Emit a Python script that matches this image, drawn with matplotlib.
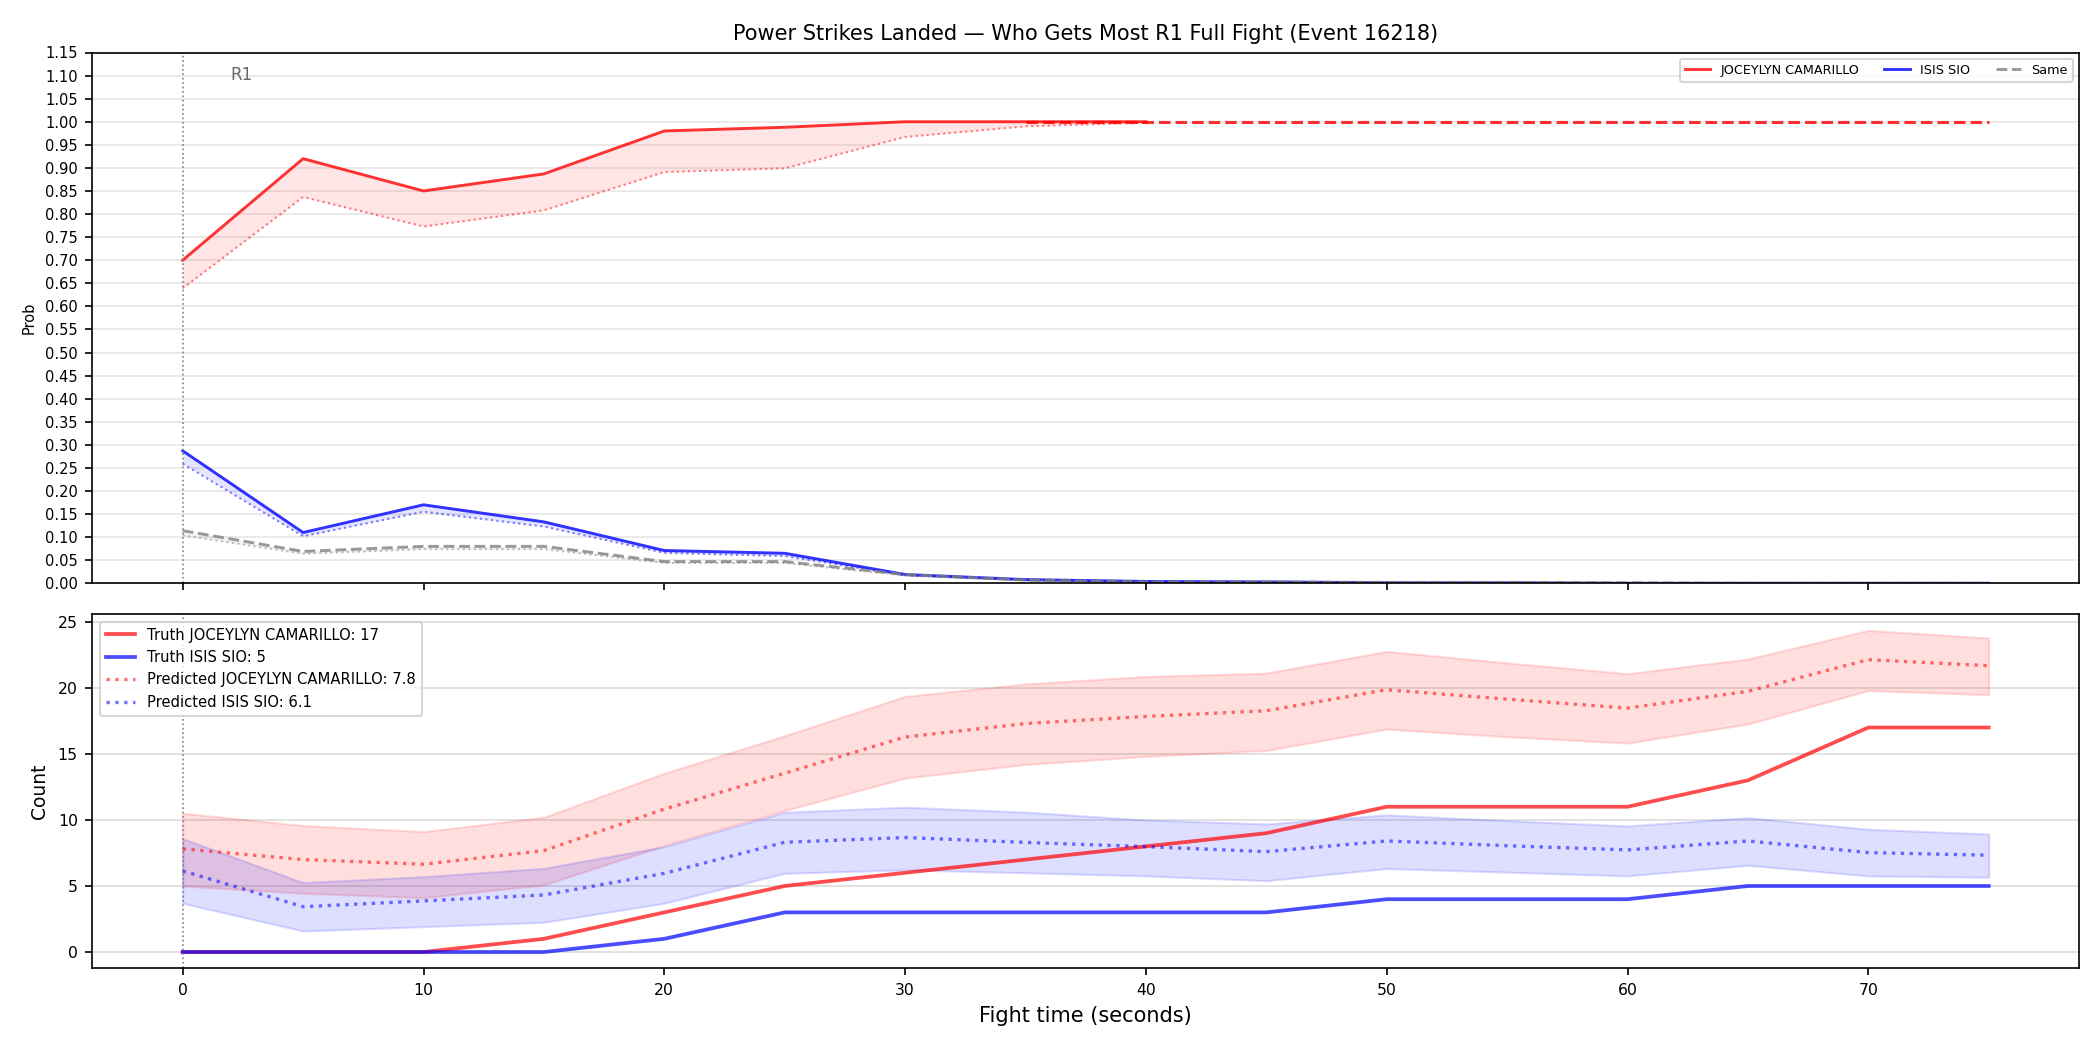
import matplotlib
matplotlib.use("Agg")
import matplotlib.pyplot as plt

RED, BLUE, GREY = "red", "blue", "grey"
NAME_A, NAME_B = "JOCEYLYN CAMARILLO", "ISIS SIO"

# fight time (s)
t = [0, 5, 10, 15, 20, 25, 30, 35, 40, 45, 50, 55, 60, 65, 70, 75]

# --- top panel: probability of landing most power strikes
t_a_live = [0, 5, 10, 15, 20, 25, 30, 35, 40]
p_a_live = [0.700, 0.920, 0.850, 0.887, 0.980, 0.988, 1.000, 1.000, 1.000]
p_a_pred = [0.639, 0.837, 0.773, 0.808, 0.891, 0.899, 0.967, 0.990, 0.998]
t_a_final = [35, 40, 45, 50, 55, 60, 65, 70, 75]
p_a_final = [1.0, 1.0, 1.0, 1.0, 1.0, 1.0, 1.0, 1.0, 1.0]
p_b_live = [0.287, 0.110, 0.170, 0.133, 0.071, 0.065, 0.019, 0.008, 0.004,
            0.003, 0.001, 0.001, 0.0, 0.0, 0.0, 0.0]
p_b_pred = [0.259, 0.102, 0.155, 0.123, 0.066, 0.059, 0.017, 0.007, 0.003,
            0.002, 0.001, 0.001, 0.0, 0.0, 0.0, 0.0]
p_same_live = [0.114, 0.069, 0.080, 0.080, 0.047, 0.047, 0.019, 0.007, 0.003,
               0.003, 0.002, 0.002, 0.001, 0.0, 0.0, 0.0]
p_same_pred = [0.104, 0.064, 0.074, 0.074, 0.044, 0.044, 0.017, 0.006, 0.002,
               0.002, 0.001, 0.001, 0.001, 0.0, 0.0, 0.0]

# --- bottom panel: cumulative counts
truth_a = [0, 0, 0, 1, 3, 5, 6, 7, 8, 9, 11, 11, 11, 13, 17, 17]
truth_b = [0, 0, 0, 0, 1, 3, 3, 3, 3, 3, 4, 4, 4, 5, 5, 5]
pred_a = [7.81, 7.0, 6.65, 7.68, 10.82, 13.54, 16.28, 17.3, 17.84, 18.27,
          19.86, 19.15, 18.47, 19.74, 22.14, 21.68]
pred_a_hi = [10.51, 9.58, 9.12, 10.21, 13.54, 16.38, 19.36, 20.3, 20.87, 21.12,
             22.77, 21.9, 21.08, 22.19, 24.36, 23.78]
pred_a_lo = [5.0, 4.45, 4.12, 5.08, 8.06, 10.71, 13.17, 14.2, 14.81, 15.26,
             16.88, 16.3, 15.82, 17.26, 19.8, 19.48]
pred_b = [6.14, 3.43, 3.87, 4.32, 5.96, 8.31, 8.67, 8.3, 7.98, 7.6,
          8.41, 8.05, 7.73, 8.41, 7.53, 7.33]
pred_b_hi = [8.59, 5.26, 5.71, 6.34, 7.98, 10.59, 10.97, 10.6, 10.0, 9.7,
             10.39, 9.95, 9.55, 10.18, 9.3, 8.94]
pred_b_lo = [3.69, 1.59, 1.92, 2.25, 3.69, 5.96, 6.22, 6.0, 5.76, 5.4,
             6.32, 6.05, 5.76, 6.57, 5.76, 5.66]
final_a, final_b = 17, 5
pred_total_a, pred_total_b = 7.8, 6.1

fig, (ax, ax2) = plt.subplots(2, 1, figsize=(14, 7), dpi=150, sharex=True,
                              gridspec_kw={"height_ratios": [1.5, 1], "hspace": 0.07})
fig.subplots_adjust(left=0.044, right=0.99, top=0.95, bottom=0.078)

# top panel
ax.fill_between(t_a_live, p_a_pred, p_a_live, color=RED, alpha=0.1, lw=0)
ax.plot(t_a_live, p_a_live, color=RED, alpha=0.8, lw=1.4, label=NAME_A)
ax.plot(t_a_live, p_a_pred, color=RED, alpha=0.5, lw=1.0, ls=":")
ax.plot(t_a_final, p_a_final, color=RED, alpha=0.8, lw=1.5, ls="--")
ax.fill_between(t, p_b_pred, p_b_live, color=BLUE, alpha=0.1, lw=0)
ax.plot(t, p_b_live, color=BLUE, alpha=0.8, lw=1.4, label=NAME_B)
ax.plot(t, p_b_pred, color=BLUE, alpha=0.5, lw=1.0, ls=":")
ax.fill_between(t, p_same_pred, p_same_live, color=GREY, alpha=0.1, lw=0)
ax.plot(t, p_same_live, color=GREY, alpha=0.8, lw=1.4, ls="--", label="Same")
ax.plot(t, p_same_pred, color=GREY, alpha=0.5, lw=1.0, ls=":")
ax.axvline(0, color="grey", ls=":", lw=0.8)
ax.text(2, 1.09, "R1", color="dimgrey", fontsize=8)
ax.set_ylim(0, 1.15)
ax.set_yticks([i * 0.05 for i in range(24)])
ax.tick_params(labelsize=7)
ax.set_ylabel("Prob", fontsize=7)
ax.grid(axis="y", color="#e6e6e6", lw=0.8)
ax.set_axisbelow(True)
ax.legend(loc="upper right", ncol=3, fontsize=6.1)
ax.set_title("Power Strikes Landed \u2014 Who Gets Most R1 Full Fight (Event 16218)", fontsize=10)

# bottom panel
ax2.fill_between(t, pred_a_lo, pred_a_hi, color=RED, alpha=0.13)
ax2.fill_between(t, pred_b_lo, pred_b_hi, color=BLUE, alpha=0.13)
ax2.plot(t, truth_a, color=RED, alpha=0.7, lw=1.8, label=f"Truth {NAME_A}: {final_a}")
ax2.plot(t, truth_b, color=BLUE, alpha=0.7, lw=1.8, label=f"Truth {NAME_B}: {final_b}")
ax2.plot(t, pred_a, color=RED, alpha=0.55, lw=1.6, ls=":",
         label=f"Predicted {NAME_A}: {pred_total_a}")
ax2.plot(t, pred_b, color=BLUE, alpha=0.55, lw=1.6, ls=":",
         label=f"Predicted {NAME_B}: {pred_total_b}")
ax2.axvline(0, color="grey", ls=":", lw=0.8)
ax2.set_ylabel("Count", fontsize=9)
ax2.set_xlabel("Fight time (seconds)", fontsize=10)
ax2.tick_params(labelsize=7.5)
ax2.grid(axis="y", color="#dddddd", lw=0.8)
ax2.set_axisbelow(True)
ax2.legend(loc="upper left", fontsize=7.1)

fig.savefig("out.png", dpi=150)
